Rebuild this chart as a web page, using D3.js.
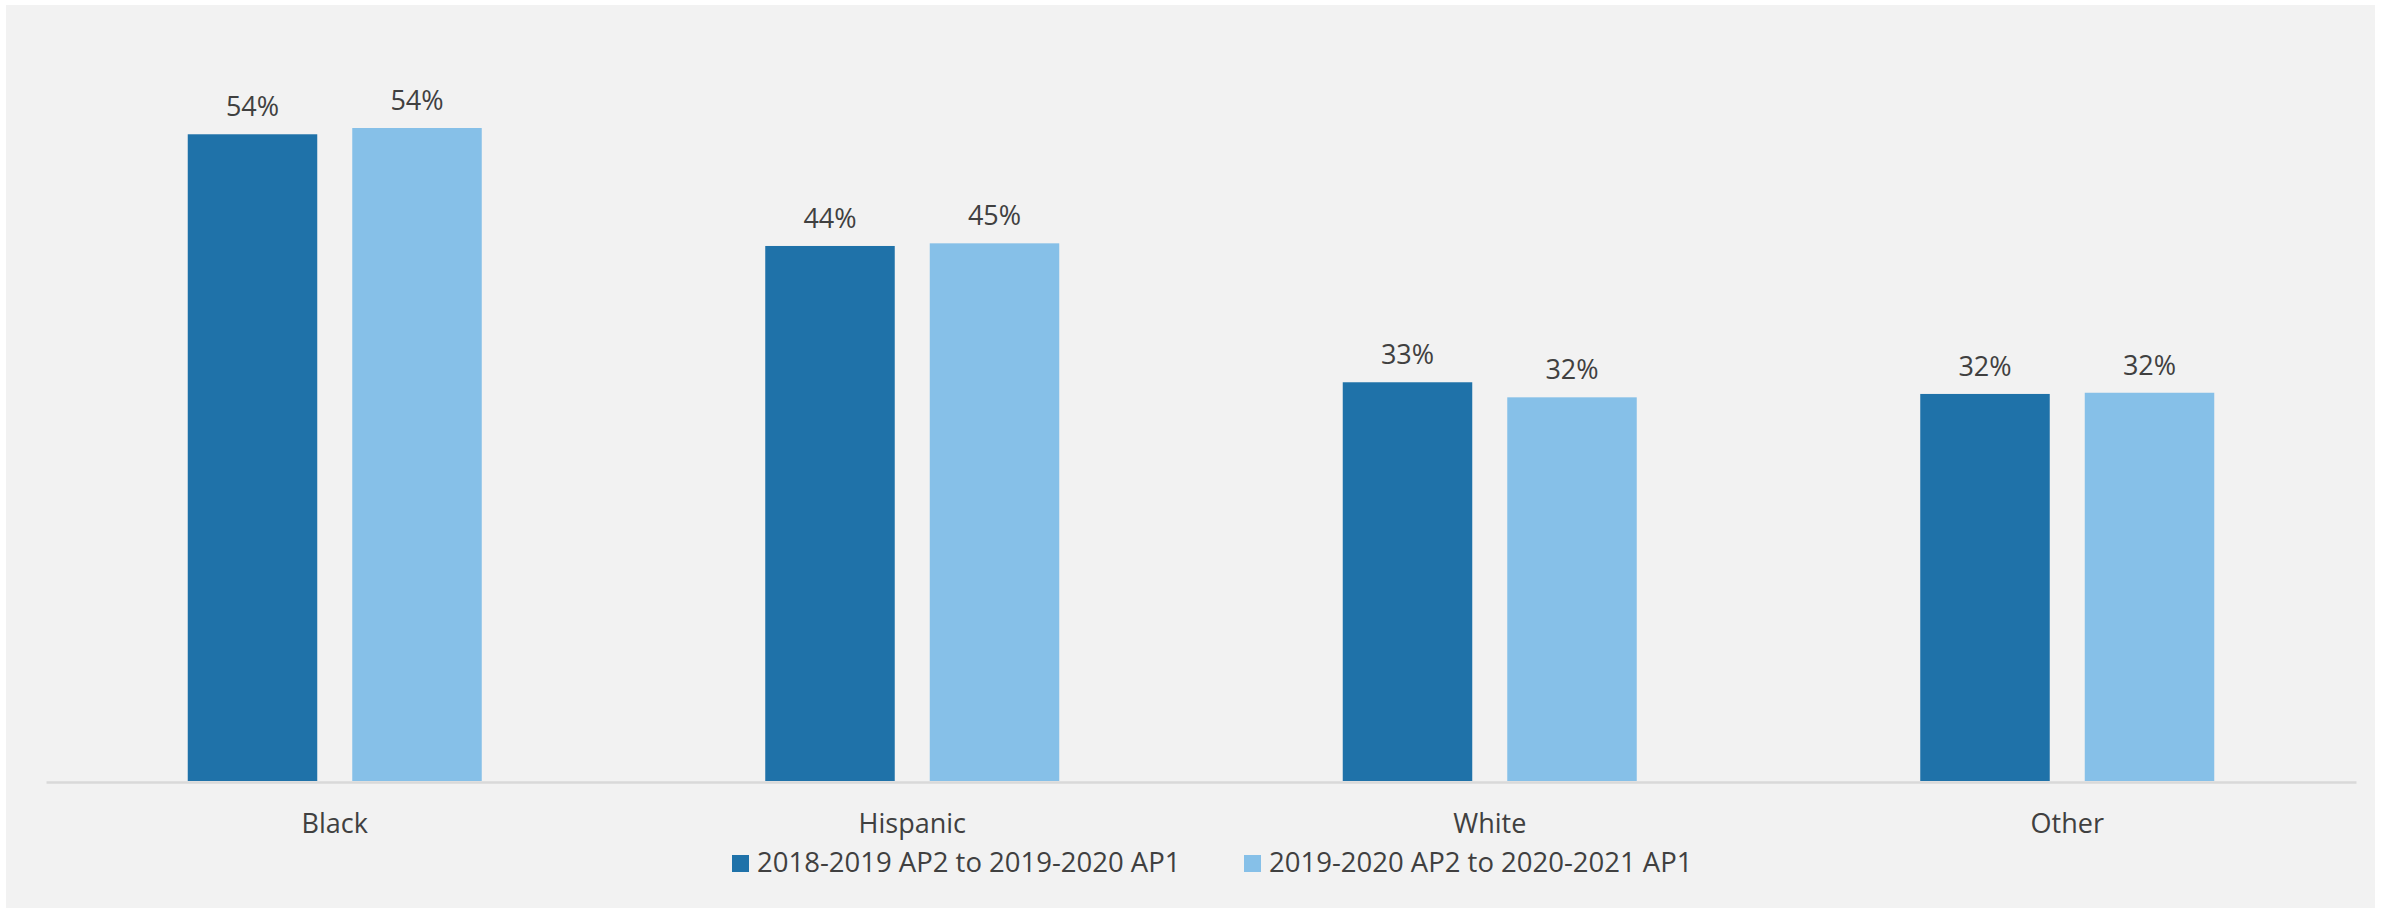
<!DOCTYPE html>
<html>
<head>
<meta charset="utf-8">
<script src="https://cdn.jsdelivr.net/npm/d3@7"></script>
<style>
  html, body { margin: 0; padding: 0; background: #ffffff; }
  svg { display: block; }
  text { font-family: "Open Sans", "Noto Sans", sans-serif; fill: #404040; }
</style>
</head>
<body>
<svg id="chart" width="2386" height="908"></svg>
<script>
// Share of students by group, for two year-over-year periods
const categories = ["Black", "Hispanic", "White", "Other"];
const seriesNames = ["2018-2019 AP2 to 2019-2020 AP1", "2019-2020 AP2 to 2020-2021 AP1"];
const series1 = [0.5367, 0.4440, 0.3309, 0.3212];
const series2 = [0.5419, 0.4462, 0.3184, 0.3222];
const colors = ["#1f72a9", "#86c0e8"];

const svg = d3.select("#chart");

// panel background
svg.append("rect")
  .attr("x", 6).attr("y", 5)
  .attr("width", 2369).attr("height", 903)
  .attr("fill", "#f2f2f2");

const plot = { left: 46, right: 2356, bottom: 781 };

const x0 = d3.scaleBand()
  .domain(categories)
  .range([plot.left, plot.right])
  .padding(0);

const groupWidth = 294;
const x1 = d3.scaleBand()
  .domain(d3.range(seriesNames.length))
  .range([0, groupWidth])
  .paddingInner(0.2128)
  .paddingOuter(0);

const y = d3.scaleLinear()
  .domain([0, 0.6])
  .range([plot.bottom, plot.bottom - 723]);

const fmt = d3.format(".0%");
const rows = categories.map((c, i) => ({ cat: c, vals: [series1[i], series2[i]] }));

const groups = svg.append("g").selectAll("g")
  .data(rows)
  .join("g")
  .attr("transform", d => `translate(${x0(d.cat) + (x0.bandwidth() - groupWidth) / 2},0)`);

groups.selectAll("rect")
  .data(d => d.vals.map((v, s) => ({ v, s })))
  .join("rect")
  .attr("x", d => x1(d.s))
  .attr("width", x1.bandwidth())
  .attr("y", d => y(d.v))
  .attr("height", d => y(0) - y(d.v))
  .attr("fill", d => colors[d.s]);

groups.selectAll("text.value")
  .data(d => d.vals.map((v, s) => ({ v, s })))
  .join("text")
  .attr("class", "value")
  .attr("x", d => x1(d.s) + x1.bandwidth() / 2)
  .attr("y", d => y(d.v) - 18)
  .attr("text-anchor", "middle")
  .attr("font-size", 27)
  .text(d => fmt(d.v));

// category axis
const xAxis = svg.append("g")
  .attr("transform", `translate(0,${plot.bottom + 1})`)
  .call(d3.axisBottom(x0).tickSize(0).tickPadding(0));
xAxis.select(".domain")
  .attr("stroke", "#d9d9d9")
  .attr("stroke-width", 2.5);
xAxis.selectAll(".tick text")
  .attr("dy", 0)
  .attr("y", 51)
  .attr("font-size", 27)
  .attr("font-family", "Open Sans, Noto Sans, sans-serif")
  .attr("fill", "#404040");

// legend, laid out left to right from a fixed start
const legendStep = 512;
const legend = svg.append("g").attr("transform", "translate(732,0)");
const items = legend.selectAll("g")
  .data(seriesNames)
  .join("g")
  .attr("transform", (d, i) => `translate(${i * legendStep},0)`);
items.append("rect")
  .attr("width", 17).attr("height", 17)
  .attr("y", 855)
  .attr("fill", (d, i) => colors[i]);
items.append("text")
  .attr("x", 25)
  .attr("y", 872)
  .attr("font-size", 27.5)
  .text(d => d);
</script>
</body>
</html>
